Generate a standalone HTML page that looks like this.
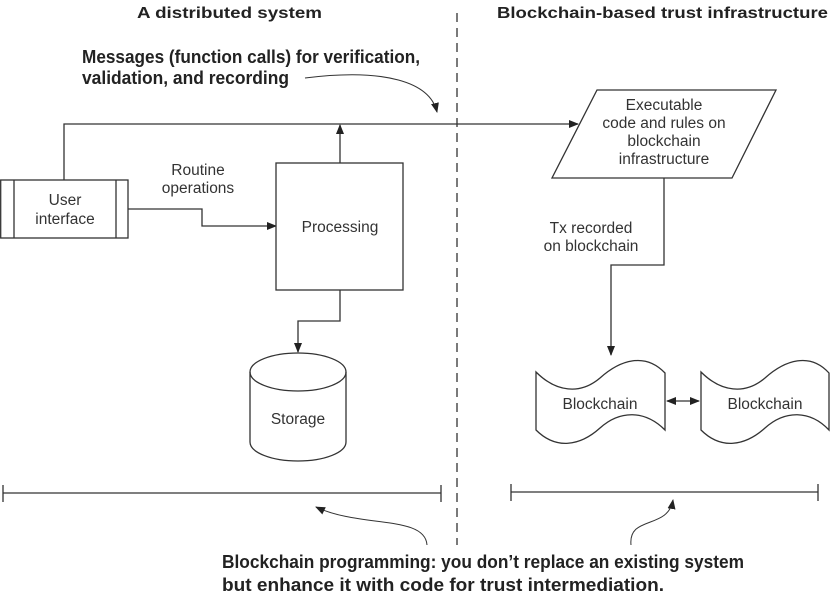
<!DOCTYPE html>
<html><head><meta charset="utf-8"><style>
html,body{margin:0;padding:0;background:#fff;}
svg{display:block;}
.h{font-family:"Liberation Sans",sans-serif;font-weight:bold;font-size:16px;fill:#222;}
.c{font-family:"Liberation Sans",sans-serif;font-weight:bold;font-size:18px;fill:#222;}
.t{font-family:"Liberation Sans",sans-serif;font-size:15.5px;fill:#333;}
</style></head><body>
<svg width="831" height="598" viewBox="0 0 831 598" xmlns="http://www.w3.org/2000/svg">
<defs>
<marker id="a" markerWidth="10" markerHeight="8" refX="9" refY="4" orient="auto" markerUnits="userSpaceOnUse"><path d="M0,0 L10,4 L0,8 z" fill="#222"/></marker>
<marker id="as" markerWidth="10" markerHeight="8" refX="1" refY="4" orient="auto" markerUnits="userSpaceOnUse"><path d="M10,0 L0,4 L10,8 z" fill="#222"/></marker>
</defs>
<g stroke="#333" stroke-width="1.3" fill="none">
<line x1="457" y1="13" x2="457" y2="545" stroke-dasharray="9,6"/>
<polyline points="64,180 64,124 578,124" marker-end="url(#a)"/>
<rect x="0.7" y="180" width="127.3" height="58" fill="#fff"/>
<line x1="14" y1="180" x2="14" y2="238"/><line x1="116" y1="180" x2="116" y2="238"/>
<polyline points="128,209 202,209 202,226 276,226" marker-end="url(#a)"/>
<rect x="276" y="163" width="127" height="127" fill="#fff"/>
<line x1="340" y1="163" x2="340" y2="125" marker-end="url(#a)"/>
<polyline points="340,290 340,321 298,321 298,352" marker-end="url(#a)"/>
<path d="M250,372 A48,19 0 0 1 346,372 L346,442 A48,19 0 0 1 250,442 Z" fill="#fff"/>
<path d="M250,372 A48,19 0 0 0 346,372"/>
<polygon points="597,90 776,90 732,178 552,178" fill="#fff"/>
<polyline points="664,178 664,265 611,265 611,355" marker-end="url(#a)"/>
<path d="M536,372 C556,392 580,395 600,378 C620,360 645,352 665,373 L665,430 C645,410 620,410 600,428 C580,446 556,450 536,430 Z" fill="#fff"/>
<path d="M701,372 C721,392 745,395 765,378 C785,360 810,352 829,373 L829,430 C810,410 785,410 765,428 C745,446 721,450 701,430 Z" fill="#fff"/>
<line x1="667" y1="401" x2="699" y2="401" marker-start="url(#as)" marker-end="url(#a)"/>
<line x1="3" y1="493" x2="441" y2="493"/><line x1="3" y1="485" x2="3" y2="502"/><line x1="441" y1="485" x2="441" y2="502"/>
<line x1="511" y1="492" x2="818" y2="492"/><line x1="511" y1="484" x2="511" y2="501"/><line x1="818" y1="484" x2="818" y2="501"/>
<path d="M427,545 C425,515 360,528 316,507" stroke-width="1" marker-end="url(#a)"/>
<path d="M631,545 C628,515 668,530 673,500" stroke-width="1" marker-end="url(#a)"/>
<path d="M305,78 C385,68 430,82 437,112" stroke-width="1.1" marker-end="url(#a)"/>
</g>
<text class="h" x="137" y="18" textLength="185" lengthAdjust="spacingAndGlyphs">A distributed system</text>
<text class="h" x="497" y="18" textLength="331" lengthAdjust="spacingAndGlyphs">Blockchain-based trust infrastructure</text>
<text class="c" x="82" y="63" textLength="338" lengthAdjust="spacingAndGlyphs">Messages (function calls) for verification,</text>
<text class="c" x="82" y="84" textLength="207" lengthAdjust="spacingAndGlyphs">validation, and recording</text>
<text class="c" x="222" y="568" textLength="522" lengthAdjust="spacingAndGlyphs">Blockchain programming: you don’t replace an existing system</text>
<text class="c" x="222" y="591" textLength="442" lengthAdjust="spacingAndGlyphs">but enhance it with code for trust intermediation.</text>
<g class="t" text-anchor="middle">
<text x="65" y="205">User</text><text x="65" y="224">interface</text>
<text x="198" y="175">Routine</text><text x="198" y="193">operations</text>
<text x="340" y="232">Processing</text>
<text x="298" y="424">Storage</text>
<text x="664" y="110">Executable</text><text x="664" y="128">code and rules on</text><text x="664" y="146">blockchain</text><text x="664" y="164">infrastructure</text>
<text x="591" y="233">Tx recorded</text><text x="591" y="251">on blockchain</text>
<text x="600" y="409">Blockchain</text><text x="765" y="409">Blockchain</text>
</g>
</svg>
</body></html>
